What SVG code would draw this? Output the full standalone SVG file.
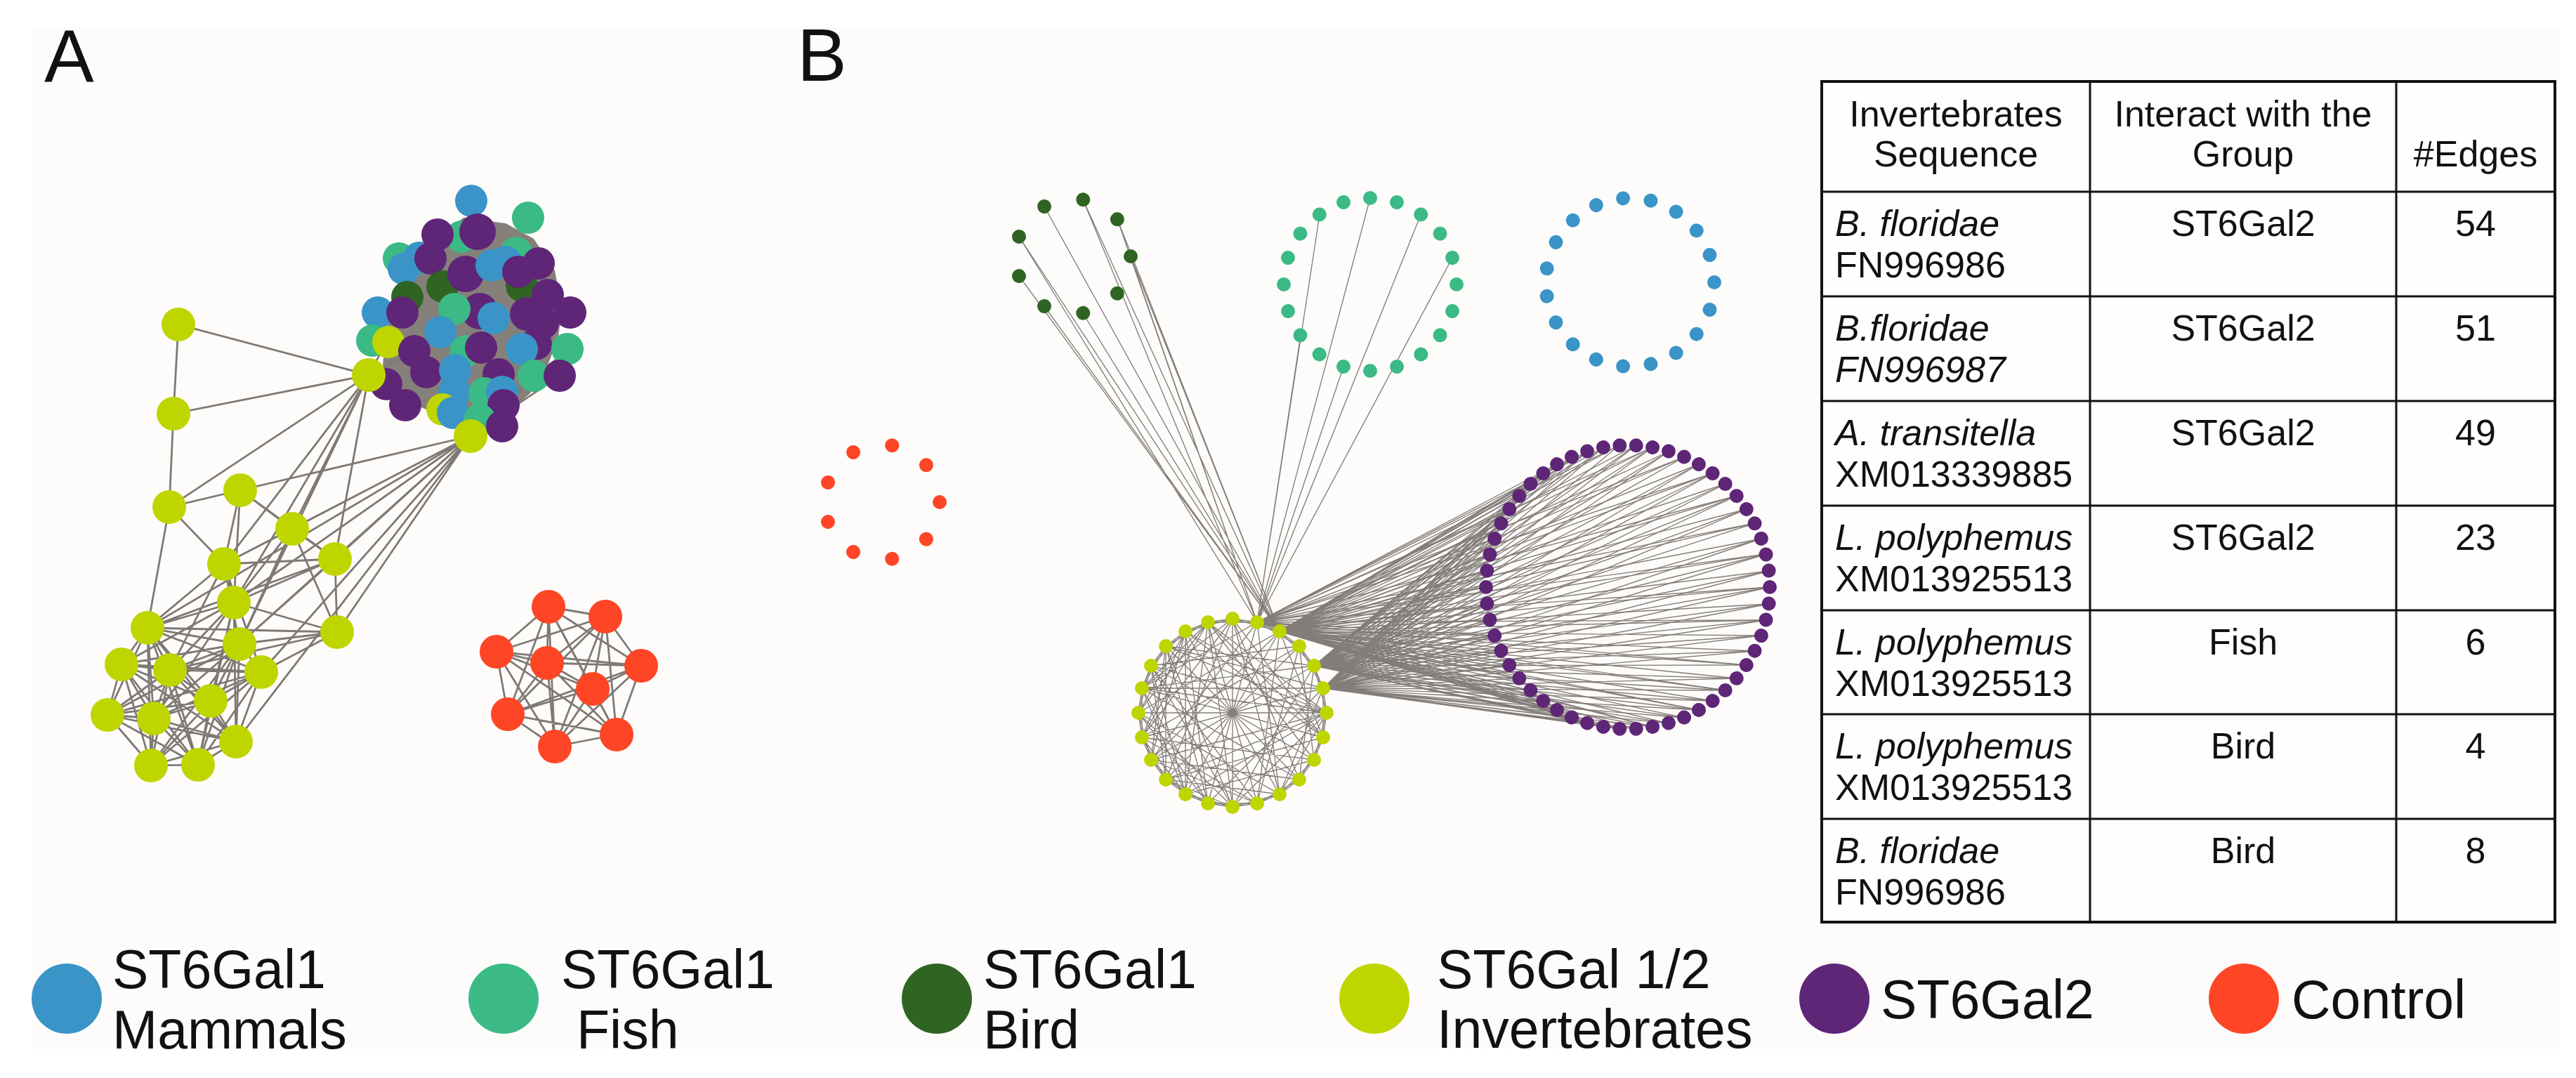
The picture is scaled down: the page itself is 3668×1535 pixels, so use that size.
<svg xmlns="http://www.w3.org/2000/svg" width="3668" height="1535" viewBox="0 0 3668 1535">
<style>
text{font-family:"Liberation Sans",Arial,sans-serif;fill:#111}
.ea{stroke:#7f7975;stroke-width:2.8;fill:none}
.eb{stroke:#837d79;stroke-width:1.35;fill:none}
.blue{fill:#3a94c8}.fish{fill:#3bba85}.bird{fill:#2f6422}.inv{fill:#bfd500}.st2{fill:#5f2577}.ctl{fill:#fe4526}
.tb{font-size:52px}.it{font-style:italic}.c{text-anchor:middle}
.lg{font-size:77px}
.grid{stroke:#111;stroke-width:3;fill:none}
</style>
<rect width="3668" height="1535" fill="#ffffff"/>
<rect x="46" y="38" width="3599" height="1455" fill="#fdfcfa"/>
<text x="63" y="116" font-size="106">A</text>
<text x="1135" y="115" font-size="106">B</text>

<!-- Panel A connectors -->
<g id="connectorsA">
<polygon points="660,310 720,318 760,340 790,385 800,440 795,480 780,520 755,560 720,590 680,605 640,598 600,580 565,555 545,520 550,470 565,420 590,375 625,335" fill="#86807b"/>
<path class="ea" d="M670 621L760 535M670 621L797 535M670 621L808 497M670 621L715 558M525 534L590 500M525 534L573 445"/>
<path class="ea" d="M254 462L525 534M254 462L247 589M247 589L525 534M247 589L241 722M525 534L241 722M525 534L416 753M525 534L477 796M525 534L319 803M525 534L333 858M525 534L341 917M670 621L342 698M670 621L416 753M670 621L477 796M670 621L319 803M670 621L333 858M670 621L480 900M670 621L341 917M670 621L372 957M670 621L210 894M670 621L336 1056M241 722L342 698M241 722L319 803M241 722L210 894M342 698L416 753M342 698L319 803M342 698L333 858M342 698L477 796M416 753L477 796M416 753L319 803M416 753L333 858M416 753L480 900M416 753L341 917M477 796L319 803M477 796L333 858M477 796L480 900M477 796L341 917M477 796L210 894M319 803L333 858M319 803L210 894M319 803L341 917M319 803L372 957M319 803L242 954M333 858L480 900M333 858L210 894M333 858L173 946M333 858L242 954M333 858L300 998M333 858L219 1023M333 858L282 1089M333 858L336 1056M480 900L341 917M480 900L372 957M480 900L210 894M480 900L242 954"/>
<path class="ea" d="M210 894L341 917M210 894L173 946M210 894L242 954M210 894L372 957M210 894L300 998M210 894L153 1018M210 894L219 1023M210 894L336 1056M210 894L215 1090M210 894L282 1089M341 917L173 946M341 917L242 954M341 917L372 957M341 917L300 998M341 917L153 1018M341 917L219 1023M341 917L336 1056M341 917L215 1090M341 917L282 1089M173 946L242 954M173 946L372 957M173 946L300 998M173 946L153 1018M173 946L219 1023M173 946L336 1056M173 946L215 1090M173 946L282 1089M242 954L372 957M242 954L300 998M242 954L153 1018M242 954L219 1023M242 954L336 1056M242 954L215 1090M242 954L282 1089M372 957L300 998M372 957L153 1018M372 957L219 1023M372 957L336 1056M372 957L215 1090M372 957L282 1089M300 998L153 1018M300 998L219 1023M300 998L336 1056M300 998L215 1090M300 998L282 1089M153 1018L219 1023M153 1018L336 1056M153 1018L215 1090M153 1018L282 1089M219 1023L336 1056M219 1023L215 1090M219 1023L282 1089M336 1056L215 1090M336 1056L282 1089M215 1090L282 1089"/>
<path class="ea" d="M781 864L862 878M781 864L707 928M781 864L779 944M781 864L913 948M781 864L844 981M781 864L723 1017M781 864L878 1046M781 864L790 1063M862 878L707 928M862 878L779 944M862 878L913 948M862 878L844 981M862 878L723 1017M862 878L878 1046M862 878L790 1063M707 928L779 944M707 928L913 948M707 928L844 981M707 928L723 1017M707 928L878 1046M707 928L790 1063M779 944L913 948M779 944L844 981M779 944L723 1017M779 944L878 1046M779 944L790 1063M913 948L844 981M913 948L723 1017M913 948L878 1046M913 948L790 1063M844 981L723 1017M844 981L878 1046M844 981L790 1063M723 1017L878 1046M723 1017L790 1063M878 1046L790 1063"/>
</g>

<!-- Panel A nodes -->
<g id="nodesA-cluster">
<circle class="fish" cx="657" cy="337" r="23"/>
<circle class="fish" cx="568" cy="368" r="23"/>
<circle class="fish" cx="735" cy="360" r="23"/>
<circle class="blue" cx="597" cy="367" r="23"/>
<circle class="blue" cx="671" cy="286" r="23"/>
<circle class="fish" cx="752" cy="310" r="23"/>
<circle class="st2" cx="623" cy="334" r="23"/>
<circle class="st2" cx="680" cy="330" r="26"/>
<circle class="blue" cx="575" cy="383" r="23"/>
<circle class="st2" cx="613" cy="368" r="23"/>
<circle class="bird" cx="630" cy="408" r="23"/>
<circle class="bird" cx="580" cy="423" r="23"/>
<circle class="bird" cx="743" cy="407" r="23"/>
<circle class="st2" cx="663" cy="390" r="26"/>
<circle class="blue" cx="700" cy="378" r="23"/>
<circle class="blue" cx="720" cy="373" r="23"/>
<circle class="st2" cx="767" cy="375" r="23"/>
<circle class="st2" cx="738" cy="387" r="23"/>
<circle class="st2" cx="780" cy="420" r="23"/>
<circle class="st2" cx="812" cy="445" r="23"/>
<circle class="blue" cx="538" cy="445" r="23"/>
<circle class="st2" cx="573" cy="445" r="23"/>
<circle class="st2" cx="683" cy="443" r="26"/>
<circle class="blue" cx="703" cy="453" r="23"/>
<circle class="st2" cx="750" cy="447" r="24"/>
<circle class="st2" cx="773" cy="460" r="23"/>
<circle class="fish" cx="647" cy="440" r="23"/>
<circle class="fish" cx="530" cy="485" r="23"/>
<circle class="inv" cx="553" cy="487" r="23"/>
<circle class="blue" cx="627" cy="473" r="23"/>
<circle class="st2" cx="590" cy="500" r="23"/>
<circle class="fish" cx="663" cy="500" r="23"/>
<circle class="st2" cx="685" cy="495" r="23"/>
<circle class="st2" cx="763" cy="490" r="23"/>
<circle class="blue" cx="743" cy="497" r="23"/>
<circle class="fish" cx="808" cy="497" r="23"/>
<circle class="st2" cx="607" cy="530" r="23"/>
<circle class="blue" cx="648" cy="527" r="23"/>
<circle class="st2" cx="710" cy="533" r="23"/>
<circle class="fish" cx="760" cy="535" r="23"/>
<circle class="st2" cx="797" cy="535" r="23"/>
<circle class="st2" cx="550" cy="547" r="23"/>
<circle class="blue" cx="647" cy="558" r="23"/>
<circle class="fish" cx="690" cy="560" r="23"/>
<circle class="blue" cx="715" cy="558" r="23"/>
<circle class="st2" cx="577" cy="577" r="23"/>
<circle class="inv" cx="630" cy="583" r="23"/>
<circle class="blue" cx="645" cy="588" r="23"/>
<circle class="st2" cx="717" cy="577" r="23"/>
<circle class="fish" cx="683" cy="598" r="23"/>
<circle class="st2" cx="715" cy="607" r="23"/>
</g>
<g id="nodesA-inv">
<circle id="a1" class="inv" cx="254" cy="462" r="24"/>
<circle id="a2" class="inv" cx="247" cy="589" r="24"/>
<circle id="a3" class="inv" cx="525" cy="534" r="24"/>
<circle id="a4" class="inv" cx="670" cy="621" r="24"/>
<circle id="a5" class="inv" cx="241" cy="722" r="24"/>
<circle id="a6" class="inv" cx="342" cy="698" r="24"/>
<circle id="a7" class="inv" cx="416" cy="753" r="24"/>
<circle id="a8" class="inv" cx="477" cy="796" r="24"/>
<circle id="a9" class="inv" cx="319" cy="803" r="24"/>
<circle id="a10" class="inv" cx="333" cy="858" r="24"/>
<circle id="a11" class="inv" cx="480" cy="900" r="24"/>
<circle id="a12" class="inv" cx="210" cy="894" r="24"/>
<circle id="a13" class="inv" cx="341" cy="917" r="24"/>
<circle id="a14" class="inv" cx="173" cy="946" r="24"/>
<circle id="a15" class="inv" cx="242" cy="954" r="24"/>
<circle id="a16" class="inv" cx="372" cy="957" r="24"/>
<circle id="a17" class="inv" cx="300" cy="998" r="24"/>
<circle id="a18" class="inv" cx="153" cy="1018" r="24"/>
<circle id="a19" class="inv" cx="219" cy="1023" r="24"/>
<circle id="a20" class="inv" cx="336" cy="1056" r="24"/>
<circle id="a21" class="inv" cx="215" cy="1090" r="24"/>
<circle id="a22" class="inv" cx="282" cy="1089" r="24"/>
</g>
<g id="nodesA-ctl">
<circle class="ctl" cx="781" cy="864" r="24"/>
<circle class="ctl" cx="862" cy="878" r="24"/>
<circle class="ctl" cx="707" cy="928" r="24"/>
<circle class="ctl" cx="779" cy="944" r="24"/>
<circle class="ctl" cx="913" cy="948" r="24"/>
<circle class="ctl" cx="844" cy="981" r="24"/>
<circle class="ctl" cx="723" cy="1017" r="24"/>
<circle class="ctl" cx="878" cy="1046" r="24"/>
<circle class="ctl" cx="790" cy="1063" r="24"/>
</g>

<!-- Panel B connectors -->
<g id="connectorsB">
<g transform="translate(1755,1015)">
<polygon class="eb" points="0,-134 35,-129 67,-116 95,-95 116,-67 129,-35 134,0 129,35 116,67 95,95 67,116 35,129 0,134 -35,129 -67,116 -95,95 -116,67 -129,35 -134,0 -129,-35 -116,-67 -95,-95 -67,-116 -35,-129"/>
<polygon class="eb" points="0,-134 67,-116 116,-67 134,0 116,67 67,116 0,134 -67,116 -116,67 -134,0 -116,-67 -67,-116"/>
<polygon class="eb" points="35,-129 95,-95 129,-35 129,35 95,95 35,129 -35,129 -95,95 -129,35 -129,-35 -95,-95 -35,-129"/>
<path class="eb" d="M0 -134L0 134M0 -134L95 95M0 -134L-95 95M0 -134L-129 35M0 -134L-129 -35M0 -134L129 35M0 -134L67 116M35 -129L-35 129M35 -129L-116 67M35 -129L-129 -35M35 -129L67 116M67 -116L-67 116M67 -116L-134 0M67 -116L35 129M67 -116L-116 67M95 -95L-95 95M95 -95L-129 35M95 -95L-116 -67M95 -95L35 129M116 -67L-116 67M116 -67L-129 -35M116 -67L0 134M116 -67L-95 -95M129 -35L-129 35M129 -35L-95 -95M129 -35L-35 129M129 -35L-129 -35M134 0L-134 0M134 0L-116 -67M134 0L-67 116M134 0L-67 -116M134 0L-116 67M134 0L0 134M134 0L67 116M134 0L-35 -129M134 0L-129 -35M134 0L-95 95M134 0L-95 -95M129 35L-129 -35M129 35L-67 -116M129 35L-95 95M129 35L-35 -129M116 67L-116 -67M116 67L-35 -129M116 67L-67 116M116 67L-129 35M95 95L-95 -95M95 95L-116 67M95 95L-129 -35M67 116L-67 -116M67 116L-134 0M67 116L-95 95M35 129L-35 -129M35 129L-116 -67M35 129L-129 35M0 134L-95 -95M0 134L-134 0M0 134L-35 -129M0 134L-95 95M-35 129L-67 -116M-35 129L-129 -35M-67 116L-116 -67M-67 116L-35 -129M-67 116L-129 35M-95 95L-95 -95M-116 67L-67 -116M-129 35L-35 -129M-134 0L-67 -116M-129 -35L-35 -129M-116 -67L0 134M-95 -95L-35 129M-67 -116L-67 116M67 -116L129 35M95 -95L116 67M116 -67L95 95M129 -35L67 116M35 129L-116 67M-35 129L-134 0M-67 116L-129 -35M-95 95L-116 -67M-116 67L-95 -95M-129 35L-67 -116M-134 0L-35 -129"/>
</g>
<path class="eb" d="M1790 886L1913 522M1790 886L1852 477M1790 886L1879 306M1790 886L1951 282M1790 886L2023 306M1790 886L2068 367"/>
<path class="eb" d="M1822 899L1610 365M1822 899L1542 446M1822 899L1487 436M1822 899L1451 393M1822 899L1451 337M1822 899L1487 294M1822 899L1542 284M1822 899L1591 312M1790 886L1610 365M1790 886L1451 337M1790 886L1542 284M1790 886L1591 312"/>
<path class="eb" d="M1822 899L2520 836M1822 899L2519 860M1822 899L2515 883M1822 899L2508 905M1822 899L2499 927M1822 899L2487 947M1822 899L2473 966M1822 899L2457 983M1822 899L2439 998M1822 899L2419 1011M1822 899L2398 1022M1822 899L2376 1030M1822 899L2353 1035M1822 899L2330 1038M1822 899L2306 1038M1822 899L2283 1035M1822 899L2260 1030M1822 899L2238 1022M1822 899L2217 1011M1822 899L2197 998M1822 899L2179 983M1822 899L2163 966M1822 899L2149 947M1822 899L2138 927M1822 899L2128 905M1822 899L2121 883M1822 899L2117 860M1822 899L2116 836M1822 899L2117 813M1822 899L2121 789M1822 899L2128 767M1822 899L2138 745M1822 899L2149 725M1822 899L2163 706M1822 899L2179 689M1822 899L2197 674M1822 899L2217 661M1822 899L2238 651M1822 899L2260 643M1822 899L2283 637M1822 899L2306 634M1822 899L2330 634M1822 899L2353 637M1822 899L2376 643M1822 899L2398 651M1822 899L2419 661M1822 899L2439 674M1822 899L2457 689M1822 899L2473 706M1822 899L2487 725M1822 899L2499 745M1822 899L2508 767M1822 899L2515 789M1822 899L2519 813"/>
<path class="eb" d="M1871 948L2520 836M1871 948L2519 860M1871 948L2515 883M1871 948L2508 905M1871 948L2499 927M1871 948L2487 947M1871 948L2473 966M1871 948L2457 983M1871 948L2439 998M1871 948L2419 1011M1871 948L2398 1022M1871 948L2376 1030M1871 948L2353 1035M1871 948L2306 1038M1871 948L2283 1035M1871 948L2260 1030M1871 948L2238 1022M1871 948L2217 1011M1871 948L2197 998M1871 948L2179 983M1871 948L2163 966M1871 948L2149 947M1871 948L2138 927M1871 948L2128 905M1871 948L2121 883M1871 948L2117 860M1871 948L2117 813M1871 948L2121 789M1871 948L2128 767M1871 948L2138 745M1871 948L2149 725M1871 948L2163 706M1871 948L2179 689M1871 948L2197 674M1871 948L2217 661M1871 948L2238 651M1871 948L2260 643M1871 948L2283 637M1871 948L2330 634M1871 948L2353 637M1871 948L2376 643M1871 948L2398 651M1871 948L2419 661M1871 948L2439 674M1871 948L2457 689M1871 948L2473 706M1871 948L2487 725M1871 948L2499 745M1871 948L2508 767M1871 948L2515 789M1871 948L2519 813"/>
<path class="eb" d="M1884 980L2520 836M1884 980L2519 860M1884 980L2515 883M1884 980L2508 905M1884 980L2499 927M1884 980L2473 966M1884 980L2457 983M1884 980L2439 998M1884 980L2419 1011M1884 980L2398 1022M1884 980L2376 1030M1884 980L2353 1035M1884 980L2330 1038M1884 980L2306 1038M1884 980L2283 1035M1884 980L2260 1030M1884 980L2238 1022M1884 980L2217 1011M1884 980L2197 998M1884 980L2163 966M1884 980L2149 947M1884 980L2138 927M1884 980L2128 905M1884 980L2121 883M1884 980L2117 860M1884 980L2116 836M1884 980L2117 813M1884 980L2121 789M1884 980L2128 767M1884 980L2138 745M1884 980L2149 725M1884 980L2179 689M1884 980L2197 674M1884 980L2217 661M1884 980L2238 651M1884 980L2260 643M1884 980L2283 637M1884 980L2306 634M1884 980L2330 634M1884 980L2353 637M1884 980L2376 643M1884 980L2419 661M1884 980L2439 674M1884 980L2457 689M1884 980L2473 706M1884 980L2487 725M1884 980L2508 767M1884 980L2515 789M1884 980L2519 813"/>
<path class="eb" d="M1790 886L2520 836M1790 886L2515 883M1790 886L2487 947M1790 886L2457 983M1790 886L2419 1011M1790 886L2353 1035M1790 886L2283 1035M1790 886L2217 1011M1790 886L2163 966M1790 886L2128 905M1790 886L2116 836M1790 886L2128 767M1790 886L2149 725M1790 886L2179 689M1790 886L2217 661M1790 886L2260 643M1790 886L2306 634M1790 886L2353 637M1790 886L2398 651M1790 886L2439 674M1790 886L2473 706M1790 886L2499 745M1790 886L2515 789"/>
</g>

<!-- Panel B nodes -->
<g id="ringB-bird" transform="translate(1528,365)">
<circle class="bird" cx="82" r="10" transform="rotate(0)"/><circle class="bird" cx="82" r="10" transform="rotate(40)"/><circle class="bird" cx="82" r="10" transform="rotate(80)"/><circle class="bird" cx="82" r="10" transform="rotate(120)"/><circle class="bird" cx="82" r="10" transform="rotate(160)"/><circle class="bird" cx="82" r="10" transform="rotate(200)"/><circle class="bird" cx="82" r="10" transform="rotate(240)"/><circle class="bird" cx="82" r="10" transform="rotate(280)"/><circle class="bird" cx="82" r="10" transform="rotate(320)"/>
</g>
<g id="ringB-ctl" transform="translate(1256,715)">
<circle class="ctl" cx="82" r="10" transform="rotate(0)"/><circle class="ctl" cx="82" r="10" transform="rotate(40)"/><circle class="ctl" cx="82" r="10" transform="rotate(80)"/><circle class="ctl" cx="82" r="10" transform="rotate(120)"/><circle class="ctl" cx="82" r="10" transform="rotate(160)"/><circle class="ctl" cx="82" r="10" transform="rotate(200)"/><circle class="ctl" cx="82" r="10" transform="rotate(240)"/><circle class="ctl" cx="82" r="10" transform="rotate(280)"/><circle class="ctl" cx="82" r="10" transform="rotate(320)"/>
</g>
<g id="ringB-fish" transform="translate(1951,405)">
<circle class="fish" cx="123" r="10" transform="rotate(0)"/><circle class="fish" cx="123" r="10" transform="rotate(18)"/><circle class="fish" cx="123" r="10" transform="rotate(36)"/><circle class="fish" cx="123" r="10" transform="rotate(54)"/><circle class="fish" cx="123" r="10" transform="rotate(72)"/><circle class="fish" cx="123" r="10" transform="rotate(90)"/><circle class="fish" cx="123" r="10" transform="rotate(108)"/><circle class="fish" cx="123" r="10" transform="rotate(126)"/><circle class="fish" cx="123" r="10" transform="rotate(144)"/><circle class="fish" cx="123" r="10" transform="rotate(162)"/><circle class="fish" cx="123" r="10" transform="rotate(180)"/><circle class="fish" cx="123" r="10" transform="rotate(198)"/><circle class="fish" cx="123" r="10" transform="rotate(216)"/><circle class="fish" cx="123" r="10" transform="rotate(234)"/><circle class="fish" cx="123" r="10" transform="rotate(252)"/><circle class="fish" cx="123" r="10" transform="rotate(270)"/><circle class="fish" cx="123" r="10" transform="rotate(288)"/><circle class="fish" cx="123" r="10" transform="rotate(306)"/><circle class="fish" cx="123" r="10" transform="rotate(324)"/><circle class="fish" cx="123" r="10" transform="rotate(342)"/>
</g>
<g id="ringB-mammal" transform="translate(2321,402)">
<circle class="blue" cx="120" r="10" transform="rotate(0)"/><circle class="blue" cx="120" r="10" transform="rotate(18.95)"/><circle class="blue" cx="120" r="10" transform="rotate(37.89)"/><circle class="blue" cx="120" r="10" transform="rotate(56.84)"/><circle class="blue" cx="120" r="10" transform="rotate(75.79)"/><circle class="blue" cx="120" r="10" transform="rotate(94.74)"/><circle class="blue" cx="120" r="10" transform="rotate(113.68)"/><circle class="blue" cx="120" r="10" transform="rotate(132.63)"/><circle class="blue" cx="120" r="10" transform="rotate(151.58)"/><circle class="blue" cx="120" r="10" transform="rotate(170.53)"/><circle class="blue" cx="120" r="10" transform="rotate(189.47)"/><circle class="blue" cx="120" r="10" transform="rotate(208.42)"/><circle class="blue" cx="120" r="10" transform="rotate(227.37)"/><circle class="blue" cx="120" r="10" transform="rotate(246.32)"/><circle class="blue" cx="120" r="10" transform="rotate(265.26)"/><circle class="blue" cx="120" r="10" transform="rotate(284.21)"/><circle class="blue" cx="120" r="10" transform="rotate(303.16)"/><circle class="blue" cx="120" r="10" transform="rotate(322.11)"/><circle class="blue" cx="120" r="10" transform="rotate(341.05)"/>
</g>
<g id="ringB-st2" transform="translate(2318,836)">
<circle class="st2" cx="202" r="10" transform="rotate(0)"/><circle class="st2" cx="202" r="10" transform="rotate(6.667)"/><circle class="st2" cx="202" r="10" transform="rotate(13.333)"/><circle class="st2" cx="202" r="10" transform="rotate(20)"/><circle class="st2" cx="202" r="10" transform="rotate(26.667)"/><circle class="st2" cx="202" r="10" transform="rotate(33.333)"/><circle class="st2" cx="202" r="10" transform="rotate(40)"/><circle class="st2" cx="202" r="10" transform="rotate(46.667)"/><circle class="st2" cx="202" r="10" transform="rotate(53.333)"/><circle class="st2" cx="202" r="10" transform="rotate(60)"/><circle class="st2" cx="202" r="10" transform="rotate(66.667)"/><circle class="st2" cx="202" r="10" transform="rotate(73.333)"/><circle class="st2" cx="202" r="10" transform="rotate(80)"/><circle class="st2" cx="202" r="10" transform="rotate(86.667)"/><circle class="st2" cx="202" r="10" transform="rotate(93.333)"/><circle class="st2" cx="202" r="10" transform="rotate(100)"/><circle class="st2" cx="202" r="10" transform="rotate(106.667)"/><circle class="st2" cx="202" r="10" transform="rotate(113.333)"/><circle class="st2" cx="202" r="10" transform="rotate(120)"/><circle class="st2" cx="202" r="10" transform="rotate(126.667)"/><circle class="st2" cx="202" r="10" transform="rotate(133.333)"/><circle class="st2" cx="202" r="10" transform="rotate(140)"/><circle class="st2" cx="202" r="10" transform="rotate(146.667)"/><circle class="st2" cx="202" r="10" transform="rotate(153.333)"/><circle class="st2" cx="202" r="10" transform="rotate(160)"/><circle class="st2" cx="202" r="10" transform="rotate(166.667)"/><circle class="st2" cx="202" r="10" transform="rotate(173.333)"/><circle class="st2" cx="202" r="10" transform="rotate(180)"/><circle class="st2" cx="202" r="10" transform="rotate(186.667)"/><circle class="st2" cx="202" r="10" transform="rotate(193.333)"/><circle class="st2" cx="202" r="10" transform="rotate(200)"/><circle class="st2" cx="202" r="10" transform="rotate(206.667)"/><circle class="st2" cx="202" r="10" transform="rotate(213.333)"/><circle class="st2" cx="202" r="10" transform="rotate(220)"/><circle class="st2" cx="202" r="10" transform="rotate(226.667)"/><circle class="st2" cx="202" r="10" transform="rotate(233.333)"/><circle class="st2" cx="202" r="10" transform="rotate(240)"/><circle class="st2" cx="202" r="10" transform="rotate(246.667)"/><circle class="st2" cx="202" r="10" transform="rotate(253.333)"/><circle class="st2" cx="202" r="10" transform="rotate(260)"/><circle class="st2" cx="202" r="10" transform="rotate(266.667)"/><circle class="st2" cx="202" r="10" transform="rotate(273.333)"/><circle class="st2" cx="202" r="10" transform="rotate(280)"/><circle class="st2" cx="202" r="10" transform="rotate(286.667)"/><circle class="st2" cx="202" r="10" transform="rotate(293.333)"/><circle class="st2" cx="202" r="10" transform="rotate(300)"/><circle class="st2" cx="202" r="10" transform="rotate(306.667)"/><circle class="st2" cx="202" r="10" transform="rotate(313.333)"/><circle class="st2" cx="202" r="10" transform="rotate(320)"/><circle class="st2" cx="202" r="10" transform="rotate(326.667)"/><circle class="st2" cx="202" r="10" transform="rotate(333.333)"/><circle class="st2" cx="202" r="10" transform="rotate(340)"/><circle class="st2" cx="202" r="10" transform="rotate(346.667)"/><circle class="st2" cx="202" r="10" transform="rotate(353.333)"/>
</g>
<g id="ringB-inv" transform="translate(1755,1015)">
<circle class="inv" cx="0" cy="-134" r="10"/><circle class="inv" cx="35" cy="-129" r="10"/><circle class="inv" cx="67" cy="-116" r="10"/><circle class="inv" cx="95" cy="-95" r="10"/><circle class="inv" cx="116" cy="-67" r="10"/><circle class="inv" cx="129" cy="-35" r="10"/><circle class="inv" cx="134" cy="0" r="10"/><circle class="inv" cx="129" cy="35" r="10"/><circle class="inv" cx="116" cy="67" r="10"/><circle class="inv" cx="95" cy="95" r="10"/><circle class="inv" cx="67" cy="116" r="10"/><circle class="inv" cx="35" cy="129" r="10"/><circle class="inv" cx="0" cy="134" r="10"/><circle class="inv" cx="-35" cy="129" r="10"/><circle class="inv" cx="-67" cy="116" r="10"/><circle class="inv" cx="-95" cy="95" r="10"/><circle class="inv" cx="-116" cy="67" r="10"/><circle class="inv" cx="-129" cy="35" r="10"/><circle class="inv" cx="-134" cy="0" r="10"/><circle class="inv" cx="-129" cy="-35" r="10"/><circle class="inv" cx="-116" cy="-67" r="10"/><circle class="inv" cx="-95" cy="-95" r="10"/><circle class="inv" cx="-67" cy="-116" r="10"/><circle class="inv" cx="-35" cy="-129" r="10"/>
</g>

<!-- Table -->
<g id="table">
<rect x="2594" y="116" width="1044" height="1197" fill="#fefefe" stroke="#111" stroke-width="4"/>
<path class="grid" d="M2976 116V1313M3412 116V1313M2594 273H3638M2594 422H3638M2594 571H3638M2594 720H3638M2594 869H3638M2594 1017H3638M2594 1166H3638"/>
<g class="tb">
<text class="c" x="2785" y="180">Invertebrates</text>
<text class="c" x="2785" y="237">Sequence</text>
<text class="c" x="3194" y="180">Interact with the</text>
<text class="c" x="3194" y="237">Group</text>
<text class="c" x="3525" y="237">#Edges</text>

<text class="it" x="2613" y="336">B. floridae</text>
<text x="2613" y="395">FN996986</text>
<text class="c" x="3194" y="336">ST6Gal2</text>
<text class="c" x="3525" y="336">54</text>

<text class="it" x="2613" y="485">B.floridae</text>
<text class="it" x="2613" y="544">FN996987</text>
<text class="c" x="3194" y="485">ST6Gal2</text>
<text class="c" x="3525" y="485">51</text>

<text class="it" x="2613" y="634">A. transitella</text>
<text x="2613" y="693">XM013339885</text>
<text class="c" x="3194" y="634">ST6Gal2</text>
<text class="c" x="3525" y="634">49</text>

<text class="it" x="2613" y="783">L. polyphemus</text>
<text x="2613" y="842">XM013925513</text>
<text class="c" x="3194" y="783">ST6Gal2</text>
<text class="c" x="3525" y="783">23</text>

<text class="it" x="2613" y="932">L. polyphemus</text>
<text x="2613" y="991">XM013925513</text>
<text class="c" x="3194" y="932">Fish</text>
<text class="c" x="3525" y="932">6</text>

<text class="it" x="2613" y="1080">L. polyphemus</text>
<text x="2613" y="1139">XM013925513</text>
<text class="c" x="3194" y="1080">Bird</text>
<text class="c" x="3525" y="1080">4</text>

<text class="it" x="2613" y="1229">B. floridae</text>
<text x="2613" y="1288">FN996986</text>
<text class="c" x="3194" y="1229">Bird</text>
<text class="c" x="3525" y="1229">8</text>
</g>
</g>

<!-- Legend -->
<g id="legend-mammals"><circle class="blue" cx="95" cy="1422" r="50"/><text class="lg" x="160" y="1407">ST6Gal1</text><text class="lg" x="160" y="1493">Mammals</text></g>
<g id="legend-fish"><circle class="fish" cx="717" cy="1422" r="50"/><text class="lg" x="799" y="1407">ST6Gal1</text><text class="lg" x="821" y="1493">Fish</text></g>
<g id="legend-bird"><circle class="bird" cx="1334" cy="1422" r="50"/><text class="lg" x="1400" y="1407">ST6Gal1</text><text class="lg" x="1400" y="1493">Bird</text></g>
<g id="legend-inv"><circle class="inv" cx="1957" cy="1422" r="50"/><text class="lg" x="2046" y="1407">ST6Gal 1/2</text><text class="lg" x="2046" y="1492">Invertebrates</text></g>
<g id="legend-st2"><circle class="st2" cx="2612" cy="1422" r="50"/><text class="lg" x="2678" y="1450">ST6Gal2</text></g>
<g id="legend-ctl"><circle class="ctl" cx="3195" cy="1422" r="50"/><text class="lg" x="3263" y="1450">Control</text></g>
</svg>
